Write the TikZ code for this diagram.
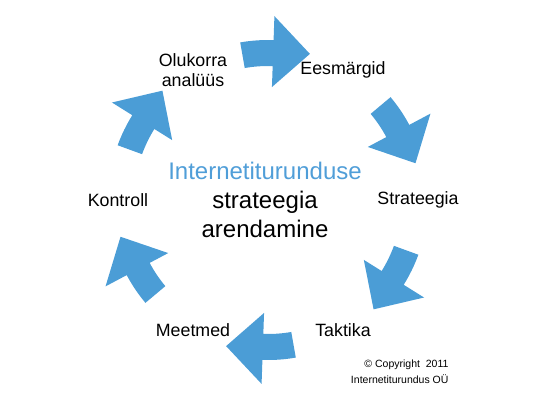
\documentclass[tikz,border=0pt]{standalone}
\usepackage{xcolor}
\usepackage{fontspec}
\setmainfont{Liberation Sans}
\usepackage{tikz}
\definecolor{arrowblue}{RGB}{75,157,214}
\definecolor{titleblue}{RGB}{80,158,216}
\tikzset{
  cyclearrow/.style={fill=arrowblue},
  steplabel/.style={align=center,font=\fontsize{17.8}{20.5}\selectfont},
}
\begin{document}
\begin{tikzpicture}
\useasboundingbox (-268pt,-202pt) rectangle (270pt,200pt);
\foreach \a in {90,30,-30,-90,-150,150}
  \fill[cyclearrow] (\a+10:160pt) arc[start angle=\a+10,end angle=\a-2,radius=160pt]
    -- (\a-2:184pt) -- (\a-16:152pt) -- (\a-2:113pt) -- (\a-2:134pt)
    arc[start angle=\a-2,end angle=\a+10,radius=134pt] -- cycle;
\node[steplabel] at (canvas polar cs:angle=120,radius=150pt) (olukord) {Olukorra\\analüüs};
\node[steplabel] at (canvas polar cs:angle=60,radius=150pt) (eesmargid) {Eesmärgid};
\node[steplabel] at (canvas polar cs:angle=0,radius=150pt) (strateegia) {Strateegia};
\node[steplabel] at (canvas polar cs:angle=300,radius=150pt) (taktika) {Taktika};
\node[steplabel] at (canvas polar cs:angle=240,radius=150pt) (meetmed) {Meetmed};
\node[steplabel] at (canvas polar cs:angle=180,radius=150pt) (kontroll) {Kontroll};
\node[align=center,font=\fontsize{24}{29}\selectfont] at (-3pt,0pt) (keskus) {\textcolor{titleblue}{Internetiturunduse}\\strateegia\\arendamine};
\node[anchor=east,align=right,font=\fontsize{10.5}{16}\selectfont] at (184pt,-172pt) (copyright) {© Copyright\ \ 2011\\Internetiturundus OÜ};
\end{tikzpicture}
\end{document}
